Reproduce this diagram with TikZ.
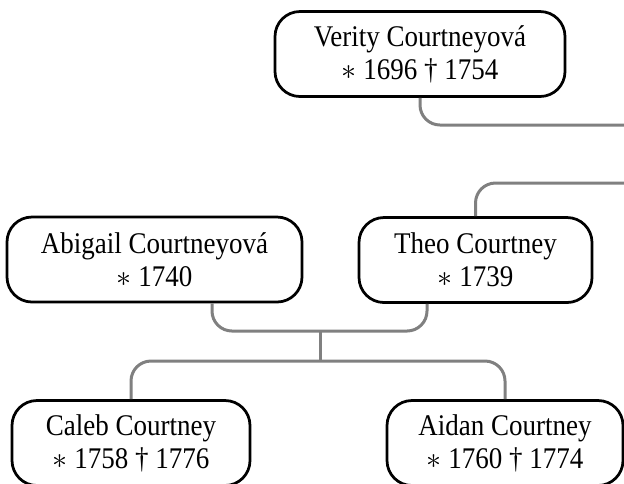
\documentclass[tikz,border=0pt]{standalone}
\usepackage{fontspec}
\setmainfont{Liberation Serif}[FakeStretch=0.9]
\usepackage{tikz}

\tikzset{
  person/.style={draw, fill=white, line width=1.1pt, rounded corners=10pt,
    align=center, minimum height=34pt, inner xsep=0pt,
    font=\fontsize{12pt}{13.2pt}\selectfont},
  edge/.style={draw=gray, line width=1.2pt, rounded corners=8pt}
}

\begin{document}
\begin{tikzpicture}[x=0.4pt, y=-0.4pt]

% Canvas
\useasboundingbox (0,0) rectangle (624,483);
\clip (0,0) rectangle (624,483);

% Persons
\node[person, minimum width=116pt] (verity) at (420,54)
  {Verity Courtneyová\\ $\ast$ 1696 \textdagger{} 1754};
\node[person, minimum width=118pt] (abigail) at (154.5,259.5)
  {Abigail Courtneyová\\ $\ast$ 1740};
\node[person, minimum width=93.2pt] (theo) at (475.5,260)
  {Theo Courtney\\ $\ast$ 1739};
\node[person, minimum width=95.2pt] (caleb) at (131,443)
  {Caleb Courtney\\ $\ast$ 1758 \textdagger{} 1776};
\node[person, minimum width=94.4pt] (aidan) at (505,443)
  {Aidan Courtney\\ $\ast$ 1760 \textdagger{} 1774};

% Key points
\coordinate (out1) at (660,125);
\coordinate (in1) at (660,183);
\coordinate (fam) at (320,331);
\coordinate (kids) at (320,361);

% Edges to the right
\draw[edge] (verity.south) |- (out1);
\draw[edge] (in1) -| (theo.north);

% Parents
\draw[edge] ([xshift=23pt]abigail.south) |- (fam) -| ([xshift=-19.4pt]theo.south);
\draw[edge] (fam) -- (kids);

% Children
\draw[edge] (caleb.north) |- (kids) -| (aidan.north);

\end{tikzpicture}
\end{document}
